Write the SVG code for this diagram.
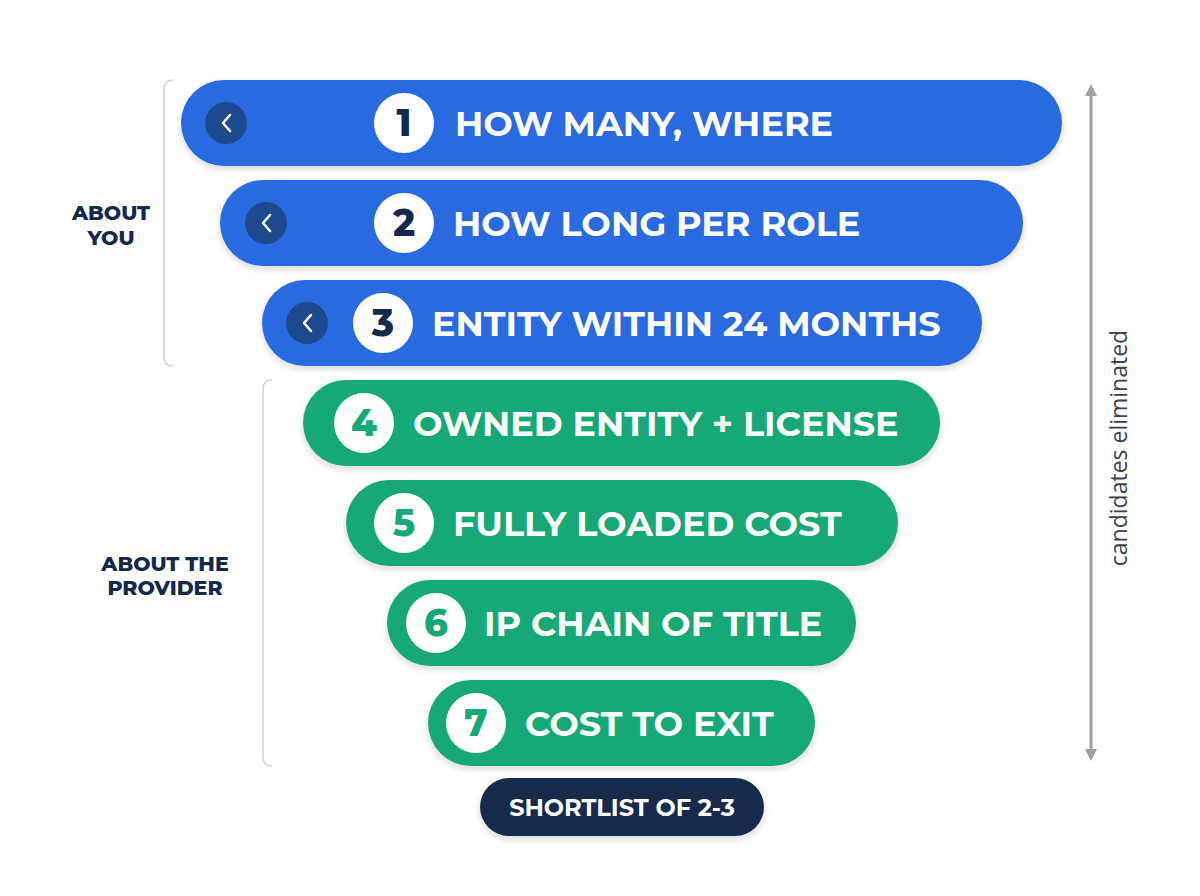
<svg xmlns="http://www.w3.org/2000/svg" width="1200" height="896" viewBox="0 0 1200 896">
<defs>
<filter id="sh" x="-10%" y="-30%" width="120%" height="170%">
<feDropShadow dx="0" dy="3" stdDeviation="3" flood-color="#1b2a45" flood-opacity="0.18"/>
</filter>
<marker id="ah" viewBox="0 0 12 12" refX="6" refY="6" markerWidth="12" markerHeight="12" markerUnits="userSpaceOnUse" orient="auto-start-reverse">
<path d="M0,0 L12,6 L0,12 Z" fill="#9aa0a6"/>
</marker>
<style>
.blue{fill:#2a6ae0}
.green{fill:#17a877}
.num{fill:#ffffff}
.chev{fill:#1d4a8f}
.chevp{fill:none;stroke:#ffffff;stroke-width:2.5;stroke-linecap:round;stroke-linejoin:round}
.lbl{font-family:"Montserrat","Open Sans","Liberation Sans",sans-serif;font-weight:700;font-size:35px;fill:#ffffff}
.nb{font-family:"Montserrat","Open Sans","Liberation Sans",sans-serif;font-weight:800;font-size:37px;text-anchor:middle;fill:#13294b}
.ng{font-family:"Montserrat","Open Sans","Liberation Sans",sans-serif;font-weight:800;font-size:37px;text-anchor:middle;fill:#17a877}
.side{font-family:"Montserrat","Open Sans","Liberation Sans",sans-serif;font-weight:800;font-size:20.5px;text-anchor:middle;fill:#13294b}
.brk{fill:none;stroke:#cfd3d8;stroke-width:1.5}
</style>
</defs>
<rect width="1200" height="896" fill="#ffffff"/>
<g id="brackets">
<path class="brk" d="M173,80 Q164,80 164,89 L164,357 Q164,366 173,366"/>
<path class="brk" d="M272,380 Q263,380 263,389 L263,757 Q263,766 272,766"/>
</g>
<g id="side-labels">
<text class="side" x="111" y="220">ABOUT</text>
<text class="side" x="111" y="245">YOU</text>
<text class="side" x="165" y="571">ABOUT THE</text>
<text class="side" x="165" y="595">PROVIDER</text>
</g>
<g id="step1">
<rect class="blue" x="181" y="80" width="881" height="86" rx="43" filter="url(#sh)"/>
<circle class="chev" cx="226" cy="123" r="21"/>
<path class="chevp" d="M230,115 L223,123 L230,131"/>
<circle class="num" cx="404" cy="123" r="30"/>
<text class="nb" x="404" y="136">1</text>
<text class="lbl" x="455" y="136">HOW MANY, WHERE</text>
</g>
<g id="step2">
<rect class="blue" x="220" y="180" width="803" height="86" rx="43" filter="url(#sh)"/>
<circle class="chev" cx="266" cy="223" r="21"/>
<path class="chevp" d="M270,215 L263,223 L270,231"/>
<circle class="num" cx="404" cy="223" r="30"/>
<text class="nb" x="404" y="236">2</text>
<text class="lbl" x="453" y="236">HOW LONG PER ROLE</text>
</g>
<g id="step3">
<rect class="blue" x="262" y="280" width="720" height="86" rx="43" filter="url(#sh)"/>
<circle class="chev" cx="307" cy="323" r="21"/>
<path class="chevp" d="M311,315 L304,323 L311,331"/>
<circle class="num" cx="383" cy="323" r="30"/>
<text class="nb" x="383" y="336">3</text>
<text class="lbl" x="432" y="336">ENTITY WITHIN 24 MONTHS</text>
</g>
<g id="step4">
<rect class="green" x="303" y="380" width="637" height="86" rx="43" filter="url(#sh)"/>
<circle class="num" cx="364" cy="423" r="30"/>
<text class="ng" x="364" y="436">4</text>
<text class="lbl" x="413" y="436">OWNED ENTITY + LICENSE</text>
</g>
<g id="step5">
<rect class="green" x="346" y="480" width="552" height="86" rx="43" filter="url(#sh)"/>
<circle class="num" cx="404" cy="523" r="30"/>
<text class="ng" x="404" y="536">5</text>
<text class="lbl" x="453" y="536">FULLY LOADED COST</text>
</g>
<g id="step6">
<rect class="green" x="387" y="580" width="469" height="86" rx="43" filter="url(#sh)"/>
<circle class="num" cx="436" cy="623" r="30"/>
<text class="ng" x="436" y="636">6</text>
<text class="lbl" x="484" y="636">IP CHAIN OF TITLE</text>
</g>
<g id="step7">
<rect class="green" x="428" y="680" width="387" height="86" rx="43" filter="url(#sh)"/>
<circle class="num" cx="476" cy="723" r="30"/>
<text class="ng" x="476" y="736">7</text>
<text class="lbl" x="525" y="736">COST TO EXIT</text>
</g>
<g id="shortlist">
<rect x="480" y="778" width="284" height="58" rx="29" fill="#13294b" filter="url(#sh)"/>
<text x="622" y="816" text-anchor="middle" font-family="Montserrat, 'Open Sans', 'Liberation Sans', sans-serif" font-weight="700" font-size="24" fill="#ffffff">SHORTLIST OF 2-3</text>
</g>
<g id="connectors">
<line x1="1091" y1="90" x2="1091" y2="755" stroke="#9aa0a6" stroke-width="3" marker-start="url(#ah)" marker-end="url(#ah)"/>
</g>
<text x="1127" y="448" transform="rotate(-90 1127 448)" text-anchor="middle" font-family="'Open Sans', 'Liberation Sans', sans-serif" font-size="23" fill="#3a4352">candidates eliminated</text>
</svg>
